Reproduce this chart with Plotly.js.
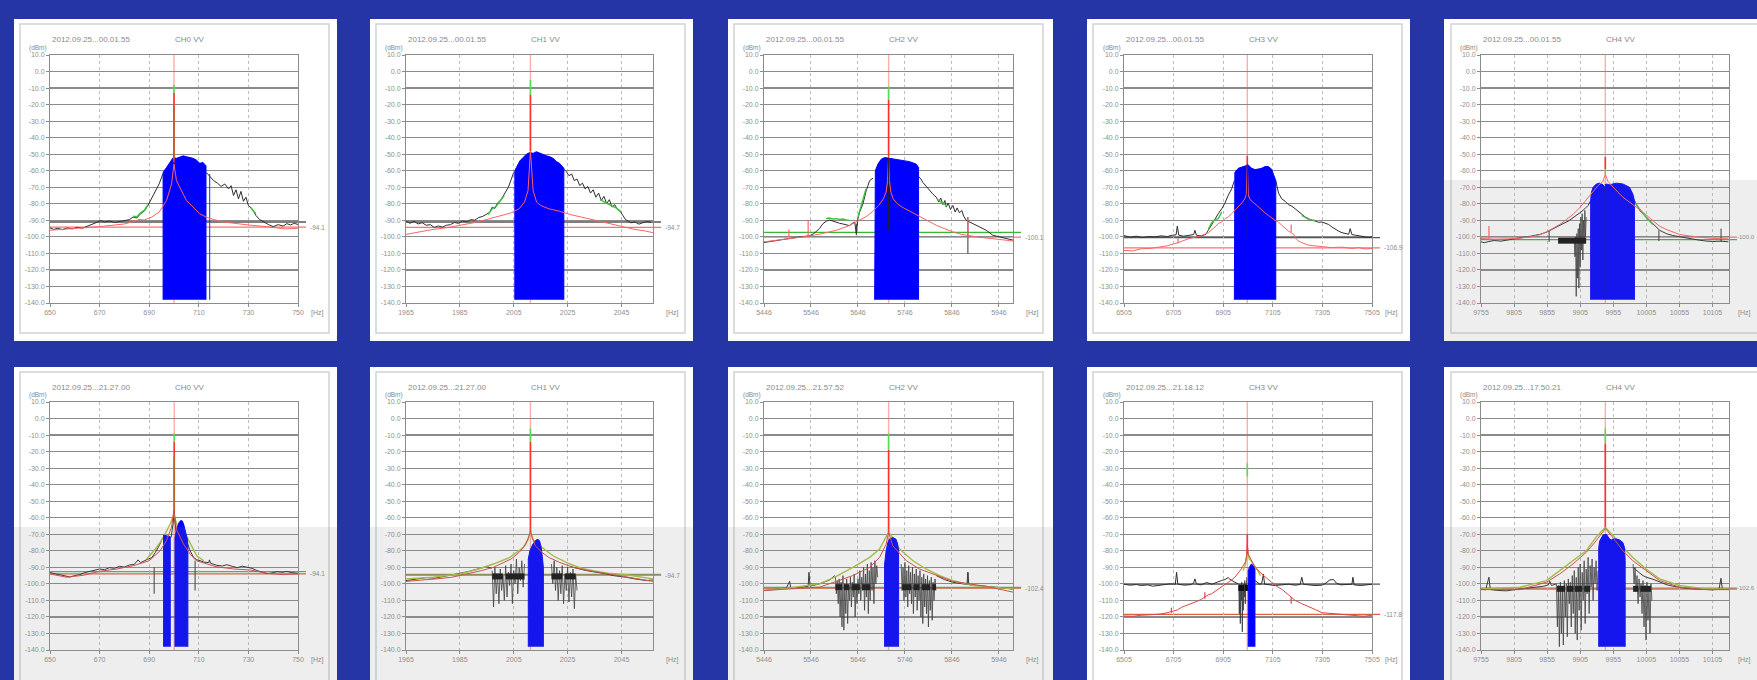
<!DOCTYPE html>
<html><head><meta charset="utf-8">
<script src="https://cdn.plot.ly/plotly-3.0.1.min.js"></script>
<style>html,body{margin:0;padding:0;background:#2535a5;overflow:hidden}#chart{width:1757px;height:680px}</style>
</head><body><div id="chart"></div>
<script>
// ---------------- DATA ----------------
const Y_TICKS = [10,0,-10,-20,-30,-40,-50,-60,-70,-80,-90,-100,-110,-120,-130,-140];
const BAND_FLOOR = -138;
const col1Range = [650, 750];   const col1Ticks = [650,670,690,710,730,750];
const col2Range = [1965, 2056.7]; const col2Ticks = [1965,1985,2005,2025,2045];
const col3Range = [5446, 5976]; const col3Ticks = [5446,5546,5646,5746,5846,5946];
const col4Range = [6505, 7505]; const col4Ticks = [6505,6705,6905,7105,7305,7505];
const col5Range = [9755, 10130]; const col5Ticks = [9755,9805,9855,9905,9955,10005,10055,10105];
const channels = ['CH0 VV','CH1 VV','CH2 VV','CH3 VV','CH4 VV'];
const stamps = ['2012.09.25...00.01.55','2012.09.25...00.01.55','2012.09.25...00.01.55','2012.09.25...00.01.55','2012.09.25...00.01.55',
                '2012.09.25...21.27.00','2012.09.25...21.27.00','2012.09.25...21.57.52','2012.09.25...21.18.12','2012.09.25...17.50.21'];
const threshLevels = [-94.1,-94.2,-100.1,-106.6,-100.1,-94,-94.7,-102.6,-118.4,-102.6];
const threshLabels = ['-94.1','-94.7','-100.1','-106.9','-100.0','-94.1','-94.7','-102.4','-117.8','-102.6'];
const refGrayLevels = [-91,-91,null,-100.5,null,null,null,null,-100.2,null];
const refGreenLevels = [null,null,-97.3,null,-101.7,-92.6,-94.2,-102.2,null,-103.2];
const carriers = [700,2011.2,5711.2,7002.3,9943,700.1,2011.2,5711.2,7002.3,9943];
const spikeGreen = [[-8,-13],[-5,-14],[-9,-17],null,[-59,-62],[-9,-14],[-6,-14],[-9,-19],[-27,-35],[-6,-15]];
const spikeRed = [[-13,-55],[-14,-48],[-17,-51.5],[-51,-56],[-51.6,-59],[-14,-56.5],[-14,-68.7],[-19,-68.7],[-70,-82],[-15,-65.7]];
const spikeBrown = [[-21,-53],null,null,null,null,[-23,-56],null,null,null,null];
const carrierBlack = [null,null,[-52,-96],[-56,-100],[-68,-137],null,null,null,null,null];

// Panel 1 (CH0, 00.01.55)
const p1Black = [[650,-94.5],[651.5,-95.5],[653,-94.8],[655,-95.6],[657,-94.6],[659,-95.2],[661,-94.2],[663,-94.8],[665,-93.6],[667,-92.5],[669,-91.2],[670.5,-90.2],[672,-91],[674,-90.4],[676,-91.3],[678,-90.6],[680,-90.2],[682,-89.6],[683.5,-88],[685,-88.6],[686.5,-86],[688,-84.5],[689.5,-81],[691,-76.5],[692.5,-73],[694,-68],[695.5,-62],[704,null],[713,-61],[714.5,-63.5],[716,-66],[717.5,-67.5],[719,-69.5],[720.5,-68],[722,-71],[723,-69],[724,-75],[725,-71.5],[726,-77],[727,-72.5],[728,-78.5],[729,-76],[730,-81],[731.5,-83],[733,-87],[734.5,-89.5],[736,-91],[738,-92.5],[740,-93.8],[742,-92.6],[744,-93.5],[745.5,-92],[747,-92.8],[748.5,-91.8],[750,-92.5]];
const p1Green = [[683.5,-87.5],[685,-87.8],[686.5,-85.5],[688,-84],[689.5,-80.5],[710,null],[731,-82.5],[732,-84],[733,-86]];
const p1Red = [[650,-96],[655,-95.5],[660,-95],[665,-94.5],[670,-93.8],[675,-93],[680,-92.2],[684,-90.5],[686,-89.5],[688,-89.8],[691,-88],[694,-85],[697,-78],[699,-68],[700,-56],[701,-66],[702.3,-70],[705,-78],[707.7,-82],[710.3,-86],[713,-88],[716,-89.5],[720,-91],[725,-92],[730,-92.8],[735,-93.5],[740,-94.5],[745,-95.2],[750,-94.8]];
const p1Band = [[695.6,-61],[697,-58],[698.3,-55],[699.7,-52],[701,-52.5],[702.3,-52],[703.7,-51],[705,-51.5],[706.4,-52],[707.7,-52.5],[709,-53.5],[710.4,-55.5],[711.7,-55],[712.9,-57]];
const p1BlueTicks = [[714.4,-138,-62]];

// Panel 2 (CH1, 00.01.55)
const p2Black = [[1965,-90.5],[1966.5,-91.8],[1968,-90.6],[1969.5,-92.2],[1971,-91.4],[1972.5,-93],[1974,-92.6],[1975.5,-94.3],[1977,-93.4],[1978.5,-94.1],[1980,-93],[1981.5,-92.6],[1983,-91.3],[1984.5,-91.8],[1986,-90.4],[1987.5,-90.9],[1989,-89.6],[1990.5,-89.9],[1992,-88.3],[1993.5,-87.6],[1995,-86.2],[1996,-85.3],[1997,-82],[1998,-82.8],[1999,-79.4],[2000,-78.1],[2001,-75.5],[2002,-72.4],[2003,-70],[2004,-65.5],[2005,-61],[2014,null],[2023.6,-59],[2024.5,-60.5],[2025.5,-63],[2026.5,-62],[2027.5,-66],[2028.5,-65],[2029.5,-69],[2030.5,-67.5],[2031.5,-71],[2032.5,-69.5],[2033.5,-73.5],[2034.5,-71.5],[2035.5,-76],[2036.5,-73.5],[2037.5,-78],[2038.5,-75.5],[2039.5,-80],[2040.5,-77.5],[2041.5,-82],[2042.5,-80.5],[2043.5,-83.5],[2044.5,-84.5],[2045.5,-87],[2046.5,-89.5],[2047.5,-90.5],[2048.5,-91.5],[2050,-91],[2051.5,-92.3],[2053,-91.4],[2054.5,-90.8],[2056,-91.2]];
const p2Green = [[1995.5,-86.5],[1997,-83],[1998.5,-81.5],[2000,-78.5],[2001.5,-75],[2020,null],[2037,-77.5],[2039,-79.5],[2041,-81],[2043,-82.5],[2045,-85]];
const p2Red = [[1965,-98.5],[1970,-97],[1975,-95.5],[1980,-94.5],[1985,-93],[1990,-91.5],[1995,-89.5],[2000,-87.5],[2004,-85.5],[2007,-83],[2009,-79],[2010.3,-72],[2011.2,-48],[2012.2,-72],[2013.5,-79],[2015,-81],[2018,-83],[2022,-84.5],[2026,-86.5],[2030,-88],[2034,-89.5],[2038,-91],[2042,-92.5],[2046,-94],[2050,-95.5],[2054,-96.5],[2056.7,-97.5]];
const p2Band = [[2005.4,-60],[2006,-58],[2007.3,-54],[2008.5,-52],[2009.7,-50],[2011,-49],[2012.2,-49.5],[2013.4,-48.5],[2014.7,-49.5],[2015.9,-50],[2017.2,-51],[2018.4,-51.5],[2019.6,-52.5],[2020.9,-54.5],[2022,-55.5],[2023.6,-58.5]];

// Panel 3 (CH2, 00.01.55)
const p3Black = [[5446,-103.4],[5458,-102.8],[5470,-102.2],[5482,-101.6],[5494,-101],[5506,-100.6],[5518,-100.2],[5530,-99.8],[5543,-99.3],[5552,-98],[5557,-96.5],[5564,-95],[5571.5,-92],[5578.6,-90.5],[5585.7,-89.8],[5592.8,-90.6],[5600,-91],[5607,-91.8],[5614,-92.2],[5621,-92.8],[5628,-93.2],[5633,-92],[5639,-91],[5642.5,-98],[5646,-89],[5649.5,-85],[5656.6,-80],[5663.7,-72],[5670.8,-66],[5678,-64.5],[5720,null],[5775,-63.5],[5780,-65],[5784,-67],[5791,-69.5],[5798.5,-72],[5805,-74],[5812.7,-76],[5818,-79],[5822,-76.5],[5827,-80.5],[5831,-78],[5834,-82],[5838,-79.5],[5843,-83.5],[5848,-81],[5853,-85],[5857,-82.5],[5862,-85.5],[5867,-84],[5871,-87.5],[5876.5,-90],[5883,-91],[5890.7,-92],[5898,-93],[5905,-94],[5912,-95],[5919,-96],[5926,-97.5],[5933,-99],[5940,-99.5],[5947,-100],[5954,-100.6],[5961.6,-101],[5968,-101.5],[5976,-102]];
const p3Green = [[5578,-89],[5585,-88.6],[5592,-89.2],[5600,-89],[5607,-89.5],[5614,-89.2],[5621,-89.8],[5628,-90],[5637,null],[5646,-88],[5650,-84],[5656,-78],[5663,-71],[5700,null],[5815,-77.5],[5822,-78.5],[5829,-80],[5836,-81.5]];
const p3Red = [[5446,-103],[5470,-102.2],[5494,-101.5],[5518,-100.5],[5543,-99.5],[5570,-98],[5600,-96],[5625,-93.5],[5650,-90],[5665,-87.5],[5678,-84.5],[5690,-81],[5700,-77],[5706,-73],[5709,-66],[5711.2,-51.5],[5713,-66],[5716,-73],[5721,-77],[5730,-80],[5740,-82],[5750,-83.5],[5760,-85.5],[5777,-88],[5795,-90.5],[5812.7,-93],[5830,-95],[5848,-97],[5866,-98.5],[5885,-99.5],[5905,-100.3],[5930,-101],[5955,-102],[5976,-102.5]];
const p3Band = [[5681.5,-64],[5683,-60],[5688.5,-56],[5695.6,-53],[5702.7,-52],[5713.4,-52.5],[5727.5,-53.5],[5741.7,-54],[5755.9,-54.5],[5770,-56],[5775,-58]];
const p3BlackTicks = [[5642.5,-99,-92],[5880,-110,-88]];
const p3RedTicks = [[5499,-100,-95.5],[5540,-100,-90],[5880,-101,-89]];

// Panel 4 (CH3, 00.01.55)
const p4Black = [[6505,-99.2],[6530,-100.2],[6555,-99.6],[6580,-100.4],[6605,-99.8],[6630,-100],[6655,-99.4],[6680,-99.8],[6700,-99],[6715,-98.8],[6720,-93.5],[6726,-99],[6745,-99.6],[6770,-99.2],[6786,-98.6],[6791,-96],[6797,-99],[6818,-99.4],[6835,-98.5],[6845,-96],[6858,-92.5],[6872,-89],[6885,-86],[6899,-83],[6912,-79.5],[6925,-75],[6939,-71],[6950,-66],[7030,null],[7117,-66],[7128,-73.5],[7141,-77],[7155,-78.5],[7168,-80.5],[7182,-81.5],[7195,-83],[7208,-84.5],[7222,-86.5],[7236,-88],[7249,-89],[7263,-90],[7276,-90.4],[7290,-91.2],[7303,-91],[7316,-91.8],[7330,-92.5],[7343,-94],[7357,-95.5],[7370,-96.5],[7384,-97.5],[7397,-98],[7411,-98.4],[7417,-95],[7424,-98.6],[7438,-99],[7451,-99.2],[7465,-99.6],[7478,-100],[7492,-100.4],[7505,-99.8]];
const p4Green = [[6845,-95.5],[6858,-91.5],[6872,-89.5],[6885,-89],[6899,-85],[7000,null],[7222,-87],[7236,-88.5],[7249,-89.4],[7263,-89.8],[7276,-90]];
const p4Red = [[6505,-108.2],[6540,-108.5],[6575,-107.2],[6610,-107],[6642,-106.3],[6680,-105.4],[6710,-104],[6723,-103.5],[6764,-101.2],[6791,-100.4],[6818,-99.2],[6845,-97.5],[6858,-96],[6872,-94],[6885,-92],[6899,-91],[6912,-89],[6925,-88],[6939,-86],[6952,-84],[6966,-82],[6980,-79.5],[6992,-77],[6998,-74.5],[7002.3,-55],[7006,-74.5],[7012,-77],[7020,-78.5],[7033,-80],[7047,-82],[7060,-84],[7074,-85.5],[7087,-87],[7100,-88.5],[7114,-90],[7127,-91],[7141,-93],[7155,-94.5],[7168,-96.5],[7179,-97.5],[7190,-98.5],[7195,-100.5],[7208,-102.5],[7222,-103.5],[7236,-104.2],[7249,-105],[7276,-105.5],[7303,-106],[7343,-106.5],[7384,-106.2],[7424,-107],[7451,-106.5],[7478,-107.3],[7505,-107]];
const p4Band = [[6950,-66],[6952,-61],[6966,-58.5],[6979,-57.7],[6993,-57.2],[7006,-56.5],[7020,-58.5],[7033,-59.3],[7046,-59],[7060,-58.5],[7073,-57.5],[7087,-57.5],[7100,-59],[7110,-62.5],[7117,-66]];
const p4RedTicks = [[6723,-104,-100.5],[7179,-97,-92.5]];

// Panel 5 (CH4, 00.01.55)
const p5Black = [[9755,-103],[9760,-103.5],[9767,-102.8],[9775,-102.2],[9785,-102.6],[9795,-101.8],[9805,-101.2],[9814,-100.6],[9825,-100],[9835,-99.2],[9845,-98.4],[9855,-97],[9864,-95],[9870,-93.5],[9879,-92],[9887,-90.5],[9894,-88.5],[9900,-87],[9906,-85],[9912,-83],[9917,-81],[9921,-78],[9950,null],[9987,-78],[9991,-81],[9995,-84],[10000,-86],[10005,-88],[10010,-90],[10015,-92],[10020,-94],[10025,-96],[10030,-97],[10035,-98],[10045,-99.2],[10055,-100],[10065,-100.8],[10075,-101.6],[10085,-102],[10095,-102.5],[10105,-102.8],[10118,-102.6],[10129,-103]];
const p5Green = [[9987,-79],[9995,-83],[10005,-88.5],[10015,-92.5]];
const p5Red = [[9755,-101],[9775,-101.4],[9795,-101.2],[9814,-100.8],[9829,-100],[9845,-98.6],[9854,-97],[9864,-95],[9874,-92.5],[9884,-89.5],[9894,-86.5],[9904,-82.5],[9909,-80],[9916,-77],[9924,-73],[9932,-69],[9939.5,-66.5],[9943,-62],[9947,-66.5],[9954.5,-70],[9962,-73],[9969.6,-76],[9977,-78.5],[9984.6,-80.5],[9995,-83.5],[10005,-87],[10015,-90.5],[10025,-93.5],[10035,-95.5],[10045,-97],[10055,-98.5],[10065,-99.2],[10080,-100],[10095,-100.6],[10110,-101],[10129,-101.2]];
const p5Band = [[9920.8,-78],[9922,-73],[9924.5,-70],[9929.5,-68],[9934.5,-67.5],[9939.5,-68.5],[9942,-70],[9944.5,-68],[9949.5,-68.5],[9959.5,-67.5],[9969.5,-68],[9979.5,-70],[9984.5,-74],[9987,-78]];
const p5BlackTicks = [[9858,-103,-96.5],[10024,-102.5,-96],[10118,-103,-95]];
const p5RedTicks = [[9767,-101,-93.5]];
const p5Bars = [[9871.6,-102.3],[9914,-102.3]];
const p5Zig = [[9896,-102],[9897,-112],[9898,-100],[9899,-136],[9900,-98],[9901,-125],[9902,-95],[9903,-131],[9904,-92],[9905,-118],[9906,-88],[9907,-108],[9908,-86],[9909,-114],[9910,-90],[9911,-104],[9912,-84],[9913,-100],[9914,-88]];

// Panel 6 (CH0, 21.27.00)
const p6Black = [[650,-93.2],[652,-93.8],[654,-94.4],[656,-95.2],[658,-95.8],[660,-95],[662,-94.4],[664,-93.2],[666,-92.4],[668,-91.8],[670,-91],[672,-91.4],[674,-90.2],[676,-90.6],[678,-89.4],[680,-89.8],[682,-88.6],[684,-88.2],[685.5,-85.5],[686.5,-87.2],[688,-86],[689.5,-85],[691,-84.2],[692.5,-81],[694,-77],[695.5,-72],[697,null],[698.8,-72],[699.6,-64],[700,-56],[700.4,-64],[701,-72],[703,null],[705.6,-76],[706.5,-80],[707.9,-84],[709.2,-85.5],[710.6,-86],[712,-86.8],[714,-87.2],[714.3,-85.5],[714.7,-87.5],[717.3,-88.8],[719.5,-89.2],[721.3,-88.4],[723.5,-89.4],[725.5,-90.2],[727.5,-89.3],[729.4,-90],[731.5,-90.6],[733.5,-92],[735.5,-93],[737.5,-93.8],[739.5,-93.4],[741.5,-92.6],[743.5,-93],[745.5,-92.5],[747.5,-93.2],[750,-93.6]];
const p6Green = [[689,-85],[693,-78],[695.8,-71.7],[698.5,-63.6],[700,-57.5],[701,-63.6],[703.8,-67.7],[706.5,-75.8],[709.2,-83],[712,-86]];
const p6Red = [[650,-94],[656.7,-96],[663.5,-94.8],[670,-92.4],[677,-91],[683.6,-89],[690,-86],[694.4,-80],[697,-73.8],[699,-65.7],[700,-55.5],[701,-67],[703.8,-75.8],[706.5,-82],[709,-86],[713,-88],[717,-89.6],[724,-91],[730.8,-91.6],[737.5,-93.6],[744,-94.4],[750,-94]];
const p6Band = [[695.8,-70.5],[697.2,-71],[698.5,-71.5],[null,null],[700.4,-72],[701.3,-66],[702,-63],[702.7,-61.7],[703.4,-62],[704,-64.5],[704.7,-68.5],[705.4,-73],[705.6,-77]];
const p6BlackTicks = [[692,-106,-90],[708.5,-104,-86]];

// Panel 7 (CH1, 21.27.00)
const p7Black = [[1965,-98],[1967.7,-97.4],[1970,-97],[1972.7,-96.2],[1975.5,-96.6],[1978.8,-95.4],[1982,-94.6],[1985,-93.6],[1988,-92.6],[1991.2,-91.4],[1993,-90.6],[1994.9,-89.6],[1996.8,-90.5],[2010,null],[2026,-89.5],[2027,-90],[2029.5,-91],[2032,-92],[2034.5,-92.6],[2037,-93.2],[2039.5,-94],[2041.9,-95],[2044.4,-95.4],[2046.8,-96],[2049.3,-96.8],[2051.8,-97.2],[2054.2,-98],[2056.7,-97.6]];
const p7Green = [[1965,-97],[1975,-96],[1985,-94],[1992,-91],[1997.4,-88],[2003.6,-84],[2008.5,-78],[2010.4,-73],[2011.2,-67.7],[2012,-73],[2014.7,-77],[2019.6,-83],[2025.8,-88],[2030,-90.5],[2034.5,-92],[2040,-93.5],[2046.8,-94.5],[2052,-96],[2056.7,-97]];
const p7Red = [[1965,-98.5],[1970,-98],[1976,-97],[1982,-96],[1988,-94],[1993,-92],[1997.4,-90],[2001,-87],[2004,-85],[2007,-81],[2009.5,-76],[2011.2,-68.5],[2013,-77],[2015.5,-81],[2018,-84],[2022,-87],[2027,-90],[2033,-92],[2040,-94],[2047,-96],[2052,-97.5],[2056.7,-98.5]];
const p7Band = [[2010.4,-85],[2011,-80],[2012.1,-76],[2013.3,-73.5],[2014,-73],[2014.6,-74],[2015.2,-78],[2015.7,-85],[2016,-90]];
const p7Bars = [[1997,-95.5],[2001,-95.5],[2001.5,null],[2002,-95.5],[2009,-95.5],[2014,null],[2019,-95.5],[2023,-95.5],[2023.5,null],[2024,-95.5],[2028,-95.5]];
const p7Zig = [[1997,-92],[1997.5,-114],[1998,-90],[1998.5,-106],[1999,-94],[1999.5,-112],[2000,-91],[2000.5,-104],[2001,-95],[2001.5,-110],[2002,-89],[2002.5,-108],[2003,-93],[2003.5,-101],[2004,-88],[2004.5,-112],[2005,-92],[2005.5,-100],[2006,-85],[2006.5,-106],[2007,-90],[2007.5,-98],[2008,-86],[2008.5,-102],[2009,-88],[2014,null],[2019,-88],[2019.5,-100],[2020,-86],[2020.5,-104],[2021,-90],[2021.5,-110],[2022,-92],[2022.5,-106],[2023,-89],[2023.5,-112],[2024,-94],[2024.5,-104],[2025,-90],[2025.5,-111],[2026,-93],[2026.5,-108],[2027,-91],[2027.5,-115],[2028,-95],[2028.5,-104]];

// Panel 8 (CH2, 21.57.52)
const p8Black = [[5446,-104],[5465,-103.4],[5480,-102.8],[5493.5,-102.5],[5500.6,-98.5],[5503,-102.6],[5522,-102],[5540,-101.5],[5541.7,-93],[5544,-101.4],[5564.4,-100],[5575,-99],[5585.7,-97.6],[5596.4,-95],[5700,null],[5812.7,-95],[5830,-97.4],[5848,-99],[5865,-100],[5878,-100.4],[5880,-93],[5882,-100.5],[5900,-101],[5919,-101.4],[5937,-102],[5954.5,-102.4],[5975.8,-103.2]];
const p8Green = [[5446,-104],[5500,-102.5],[5564,-100],[5600,-95.5],[5635,-90],[5671,-84],[5692,-79],[5706,-71.7],[5711.2,-68.7],[5720,-72],[5734.6,-79],[5763,-86],[5791,-91],[5820,-95],[5848,-98],[5890.7,-101],[5930,-102],[5976,-103]];
const p8Red = [[5446,-104],[5500,-103],[5564,-102],[5600,-98.5],[5635,-95],[5671,-90],[5692,-84],[5706,-76],[5711.2,-68.7],[5720,-77],[5749,-86],[5777,-91],[5812.7,-95],[5848,-98.5],[5919,-101.5],[5976,-105]];
const p8Band = [[5702.7,-88],[5706,-80],[5709.6,-75],[5713,-72.8],[5720,-72],[5727,-73],[5730.5,-76],[5732.5,-80]];
const p8Bars = [[5598,-102],[5612,-102],[5614,null],[5616,-102],[5628,-102],[5630,null],[5632,-102],[5650,-102],[5652,null],[5655,-102],[5672,-102],[5700,null],[5740,-102],[5760,-102],[5762,null],[5764,-102],[5777,-102],[5779,null],[5782,-102],[5800,-102],[5802,null],[5804,-102],[5812,-102]];
const p8Zig = [[5598,-96],[5600,-106],[5602,-98],[5604,-112],[5606,-97],[5608,-120],[5610,-99],[5612,-126],[5614,-95],[5616,-128],[5618,-100],[5620,-118],[5622,-97],[5624,-124],[5626,-101],[5628,-110],[5630,-96],[5632,-114],[5634,-99],[5636,-108],[5638,-94],[5640,-120],[5642,-100],[5644,-112],[5646,-97],[5648,-106],[5650,-92],[5652,-110],[5654,-96],[5656,-104],[5658,-90],[5660,-116],[5662,-94],[5664,-108],[5666,-88],[5668,-118],[5670,-92],[5672,-110],[5674,-87],[5676,-104],[5678,-90],[5680,-112],[5682,-86],[5684,-100],[5686,-89],[5688,-96],[5710,null],[5738,-88],[5740,-104],[5742,-90],[5744,-110],[5746,-87],[5748,-108],[5750,-92],[5752,-114],[5754,-89],[5756,-106],[5758,-93],[5760,-112],[5762,-90],[5764,-118],[5766,-94],[5768,-108],[5770,-91],[5772,-116],[5774,-95],[5776,-110],[5778,-92],[5780,-120],[5782,-96],[5784,-124],[5786,-94],[5788,-114],[5790,-97],[5792,-118],[5794,-95],[5796,-126],[5798,-98],[5800,-116],[5802,-96],[5804,-122],[5806,-99],[5808,-110],[5810,-97],[5812,-104]];
const p8BlackTicks = [[5880,-100.4,-93]];

// Panel 9 (CH3, 21.18.12)
const p9Black = [[6505,-100.2],[6530,-100.8],[6555,-100.4],[6575,-101],[6600,-100.6],[6620,-101.4],[6642,-101],[6665,-100.4],[6690,-100],[6712,-100.2],[6717,-93],[6722,-100.2],[6750,-100.8],[6775,-100.4],[6786,-99.4],[6791,-97],[6797,-100],[6815,-100.6],[6838,-99.2],[6860,-100.2],[6885,-98.6],[6898,-98],[6912,-97.4],[6925,-96.2],[6932,-97.2],[6939,-98],[6952,-99],[6966,-100],[7000,null],[7033,-98],[7045,-99.5],[7053,-100.2],[7060,-100],[7067,-94.2],[7072,-100.2],[7090,-100.6],[7114,-101],[7140,-100.6],[7168,-100.2],[7195,-100.8],[7215,-100.4],[7222,-96],[7228,-100.2],[7250,-100.6],[7275,-101],[7303,-100.8],[7320,-99.4],[7335,-97.6],[7350,-97.4],[7362,-99.6],[7380,-100.6],[7400,-100.4],[7424,-100.2],[7428,-96],[7433,-100.6],[7460,-101],[7485,-100.6],[7505,-100.2]];
const p9Green = [[6985,-92],[6995,-88],[7002.3,-80],[7010,-85],[7020,-86.5],[7033,-89],[7045,-92],[7055,-95]];
const p9Red = [[6505,-119.4],[6540,-119.6],[6575,-119],[6610,-118.8],[6642,-118.4],[6670,-117.8],[6696,-117],[6720,-115.8],[6737,-114.2],[6760,-113],[6777,-112],[6800,-110.5],[6818,-109.3],[6831,-108],[6845,-106.6],[6858,-106],[6872,-104.6],[6885,-103.4],[6899,-102],[6912,-100.6],[6925,-99.2],[6939,-97.6],[6952,-96],[6966,-93.5],[6978,-91],[6986,-89],[6995,-86.5],[7000,-83],[7002.3,-76],[7006,-82],[7013,-84],[7022,-87.5],[7033,-90],[7046,-92],[7060,-94],[7080,-96.5],[7100,-99],[7120,-101.5],[7141,-103.2],[7160,-105.5],[7168,-106.8],[7180,-108],[7195,-110],[7222,-112],[7249,-114],[7276,-115.5],[7303,-117.4],[7343,-118],[7384,-118.4],[7437,-119.4],[7470,-119.6],[7505,-119]];
const p9Band = [[7006,-92],[7012,-89.5],[7019,-88],[7026,-89],[7033,-91]];
const p9Bars = [[6966,-102.5],[6990,-102.5],[6991.5,null],[6993,-102.5],[7006,-102.5]];
const p9Zig = [[6968,-101],[6970,-118],[6972,-100],[6974,-124],[6976,-102],[6978,-110],[6980,-99],[6982,-129],[6984,-101],[6986,-116],[6988,-100],[6990,-108],[6992,-98],[6994,-112],[6996,-100],[6998,-104],[7000,-96]];
const p9RedTicks = [[6696,-117.5,-114.5],[6831,-109,-105],[7179,-112,-108]];

// Panel 10 (CH4, 17.50.21)
const p10Black = [[9755,-103.2],[9762,-103.6],[9767,-96],[9769,-103.4],[9780,-104],[9794,-104.2],[9804,-103.6],[9814,-103.2],[9826,-102.8],[9839,-102.2],[9850,-101.4],[9857,-100.6],[9859,-98.4],[9861.5,-101],[9866,-100.4],[9869,-100],[9950,null],[9985,-90],[9990,-92],[9995,-93.5],[10000,-95],[10005,-96],[10015,-97.2],[10025,-99],[10035,-100.4],[10045,-101.4],[10055,-102.2],[10065,-102.6],[10075,-103],[10085,-103.2],[10095,-103.4],[10105,-103.6],[10115,-103.2],[10117.8,-96.6],[10120,-103.4],[10130,-103.4]];
const p10Green = [[9755,-103],[9814,-102],[9854,-98],[9874,-92],[9894,-86],[9914,-80],[9929,-71.7],[9943,-65.7],[9954.5,-70.7],[9969.6,-77.8],[9984.6,-84],[10004.7,-91],[10025,-97],[10055,-101],[10095,-103],[10130,-103]];
const p10Red = [[9755,-103.5],[9814,-103.5],[9854,-99],[9874,-94],[9894,-88],[9914,-81],[9929,-74],[9943,-66.5],[9954.5,-72],[9969.6,-80],[9984.6,-86],[10004.7,-92],[10025,-98],[10055,-102],[10095,-103.5],[10130,-103.5]];
const p10Band = [[9933,-78],[9934.5,-74],[9937,-71.7],[9939.5,-70.5],[9944.5,-70],[9947,-71.5],[9949.5,-72.8],[9952,-73.4],[9954.5,-72.8],[9959.5,-72.8],[9964.5,-73.4],[9969.5,-75],[9972,-78],[9973,-86]];
const p10Bars = [[9870,-103],[9882,-103],[9883.5,null],[9885,-103],[9895,-103],[9896,null],[9897,-103],[9908,-103],[9909.5,null],[9911,-103],[9920,-103],[9950,null],[9985,-103],[9993,-103],[9994.5,null],[9996,-103],[10012,-103]];
const p10Zig = [[9869,-100],[9870.5,-126],[9872,-101],[9873.5,-138],[9875,-99],[9876.5,-130],[9878,-102],[9879.5,-137],[9881,-98],[9882.5,-120],[9884,-100],[9885.5,-132],[9887,-97],[9888.5,-112],[9890,-99],[9891.5,-126],[9893,-95],[9894.5,-118],[9896,-92],[9897.5,-130],[9899,-96],[9900.5,-134],[9902,-90],[9903.5,-116],[9905,-88],[9906.5,-128],[9908,-93],[9909.5,-110],[9911,-86],[9912.5,-124],[9914,-91],[9915.5,-106],[9917,-84],[9918.5,-118],[9920,-89],[9921.5,-102],[9923,-85],[9924.5,-110],[9926,-90],[9927.5,-100],[9929,-86],[9930.5,-104],[9932,-92],[9950,null],[9985,-88],[9986.5,-100],[9988,-90],[9989.5,-104],[9991,-95],[9992.5,-112],[9994,-97],[9995.5,-108],[9997,-100],[9998.5,-118],[10000,-98],[10001.5,-126],[10003,-101],[10004.5,-134],[10006,-99],[10007.5,-122],[10009,-102],[10010.5,-130],[10012,-100],[10013.5,-110]];

// ---------------- BUILD ----------------
const PANELS = [
  {black:p1Black, green:p1Green, red:p1Red, band:p1Band, blackTicks:[], redTicks:[], blueTicks:p1BlueTicks, bars:[], zig:[]},
  {black:p2Black, green:p2Green, red:p2Red, band:p2Band, blackTicks:[], redTicks:[], blueTicks:[], bars:[], zig:[]},
  {black:p3Black, green:p3Green, red:p3Red, band:p3Band, blackTicks:p3BlackTicks, redTicks:p3RedTicks, blueTicks:[], bars:[], zig:[]},
  {black:p4Black, green:p4Green, red:p4Red, band:p4Band, blackTicks:[], redTicks:p4RedTicks, blueTicks:[], bars:[], zig:[]},
  {black:p5Black, green:p5Green, red:p5Red, band:p5Band, blackTicks:p5BlackTicks, redTicks:p5RedTicks, blueTicks:[], bars:p5Bars, zig:p5Zig},
  {black:p6Black, green:p6Green, red:p6Red, band:p6Band, blackTicks:p6BlackTicks, redTicks:[], blueTicks:[], bars:[], zig:[]},
  {black:p7Black, green:p7Green, red:p7Red, band:p7Band, blackTicks:[], redTicks:[], blueTicks:[], bars:p7Bars, zig:p7Zig},
  {black:p8Black, green:p8Green, red:p8Red, band:p8Band, blackTicks:p8BlackTicks, redTicks:[], blueTicks:[], bars:p8Bars, zig:p8Zig},
  {black:p9Black, green:p9Green, red:p9Red, band:p9Band, blackTicks:[], redTicks:p9RedTicks, blueTicks:[], bars:p9Bars, zig:p9Zig},
  {black:p10Black, green:p10Green, red:p10Red, band:p10Band, blackTicks:[], redTicks:[], blueTicks:[], bars:p10Bars, zig:p10Zig}
];
const COL_RANGES = [col1Range,col2Range,col3Range,col4Range,col5Range];
const COL_TICKS = [col1Ticks,col2Ticks,col3Ticks,col4Ticks,col5Ticks];

const W = 1757, H = 680;
const COLS = [
  {boxL:14, boxR:337, frameL:20, frameR:329, plotL:50, plotR:298, lblGap:10, hzGap:11, lblSize:6.5},
  {boxL:370, boxR:693, frameL:376, frameR:685, plotL:406, plotR:653, lblGap:10, hzGap:11, lblSize:6.5},
  {boxL:728, boxR:1053, frameL:734, frameR:1043, plotL:764, plotR:1013, lblGap:10, hzGap:11, lblSize:6.5},
  {boxL:1087, boxR:1410, frameL:1093, frameR:1402, plotL:1124, plotR:1372, lblGap:10, hzGap:11, lblSize:6.5},
  {boxL:1444, boxR:1800, frameL:1451, frameR:1800, plotL:1481, plotR:1729, lblGap:6, hzGap:7, lblSize:6}
];
const ROWS = [
  {boxT:19, boxB:341, frameT:24, frameB:333, plotT:55, plotB:303, titleY:39, unitY:48, grayT:180},
  {boxT:367, boxB:720, frameT:372, frameB:720, plotT:402, plotB:650, titleY:387, unitY:395, grayT:527}
];
const OVERLAY = [false,false,false,false,true,true,true,true,false,true];
const FONT = 'Liberation Sans, Arial, sans-serif';
const px = v => v / W, py = v => 1 - v / H;
const colOf = (pairs, i) => pairs.map(p => p[i]);

function bandPolygon(pairs, floor) {
  const x = [], y = [];
  let seg = [];
  const flush = () => {
    if (!seg.length) return;
    x.push(seg[0][0]); y.push(floor);
    seg.forEach(p => { x.push(p[0]); y.push(p[1]); });
    x.push(seg[seg.length - 1][0]); y.push(floor);
    x.push(null); y.push(null);
    seg = [];
  };
  pairs.forEach(p => { if (p[0] === null) flush(); else seg.push(p); });
  flush();
  return {x, y};
}
function vTicks(list) {
  const x = [], y = [];
  list.forEach(t => { x.push(t[0], t[0], null); y.push(t[1], t[2], null); });
  return {x, y};
}

const data = [], shapes = [], annotations = [];
const layout = {
  width: W, height: H, margin: {l:0, r:0, t:0, b:0},
  paper_bgcolor: '#2535a5', plot_bgcolor: '#ffffff',
  showlegend: false, font: {family: FONT}
};

PANELS.forEach((p, k) => {
  const C = COLS[k % 5], R = ROWS[k < 5 ? 0 : 1];
  shapes.push({type:'rect', xref:'paper', yref:'paper', x0:px(C.boxL), x1:px(C.boxR), y0:py(R.boxB), y1:py(R.boxT),
    fillcolor:'#ffffff', line:{width:0}, layer:'below'});
  shapes.push({type:'rect', xref:'paper', yref:'paper', x0:px(C.frameL), x1:px(C.frameR), y0:py(R.frameB), y1:py(R.frameT),
    fillcolor:'rgba(0,0,0,0)', line:{color:'#d2d2d2', width:1.5}, layer:'below'});
});

PANELS.forEach((p, k) => {
  const top = k < 5;
  const C = COLS[k % 5], R = ROWS[top ? 0 : 1];
  const n = k + 1;
  const xa = n === 1 ? 'x' : 'x' + n, ya = n === 1 ? 'y' : 'y' + n;
  const xKey = n === 1 ? 'xaxis' : 'xaxis' + n, yKey = n === 1 ? 'yaxis' : 'yaxis' + n;
  const ticks = COL_TICKS[k % 5];
  layout[xKey] = {
    domain:[px(C.plotL), px(C.plotR)], range: COL_RANGES[k % 5], anchor: ya,
    tickmode:'array', tickvals: ticks, ticktext: ticks.map(String),
    showgrid:true, gridcolor:'#bdbdbd', griddash:'dot', gridwidth:1,
    showline:true, linecolor:'#8c8c8c', linewidth:1, mirror:true,
    ticks:'outside', ticklen:3, tickcolor:'#8c8c8c',
    tickfont:{size:7, color:'#8f8f8f', family:FONT}, zeroline:false, fixedrange:true
  };
  layout[yKey] = {
    domain:[py(R.plotB), py(R.plotT)], range:[-140, 10], anchor: xa,
    tickmode:'array', tickvals: Y_TICKS, ticktext: Y_TICKS.map(v => v.toFixed(1)),
    showgrid:true, gridcolor:'#8a8a8a', gridwidth:1.2,
    showline:true, linecolor:'#8c8c8c', linewidth:1, mirror:true,
    ticks:'outside', ticklen:3, tickcolor:'#8c8c8c',
    tickfont:{size:7, color:'#8f8f8f', family:FONT}, zeroline:false, fixedrange:true
  };

  const add = (x, y, color, width, extra) => data.push(Object.assign({
    type:'scatter', mode:'lines', x, y, xaxis:xa, yaxis:ya,
    line:{color, width}, hoverinfo:'skip', connectgaps:false
  }, extra || {}));

  const c = carriers[k];
  const greenCol = top ? '#3fc23f' : '#a9c43c';
  const redCol = top ? '#ff6464' : '#d84848';

  add([c, c], [10, -140], 'rgba(255,90,90,0.5)', 1.4);
  add(colOf(p.black,0), colOf(p.black,1), '#2e2e2e', 1);
  add(colOf(p.green,0), colOf(p.green,1), greenCol, 1.4);
  if (p.zig.length) add(colOf(p.zig,0), colOf(p.zig,1), '#333333', 0.8);
  if (p.bars.length) add(colOf(p.bars,0), colOf(p.bars,1), '#111111', 6);
  if (p.blackTicks.length) { const t = vTicks(p.blackTicks); add(t.x, t.y, '#333333', 1); }
  const poly = bandPolygon(p.band, BAND_FLOOR);
  add(poly.x, poly.y, '#0000ff', 1, {fill:'toself', fillcolor:'#0000ff'});
  if (p.blueTicks.length) { const t = vTicks(p.blueTicks); add(t.x, t.y, '#2020ff', 1); }
  add(colOf(p.red,0), colOf(p.red,1), redCol, 1);
  if (p.redTicks.length) { const t = vTicks(p.redTicks); add(t.x, t.y, redCol, 1.2); }
  if (carrierBlack[k]) add([c, c], carrierBlack[k], '#222222', 1.1);
  if (spikeRed[k]) add([c, c], spikeRed[k], '#ff3030', 1.6);
  if (spikeBrown[k]) add([c, c], spikeBrown[k], '#b8642a', 1.6);
  if (spikeGreen[k]) add([c, c], spikeGreen[k], '#55dd55', 1.6);

  const lineShape = (lvl, color, w) => shapes.push({type:'line', xref:'paper', yref:ya,
    x0:px(C.plotL), x1:px(C.plotR + 8), y0:lvl, y1:lvl, line:{color, width:w}, layer:'below'});
  if (refGrayLevels[k] !== null) lineShape(refGrayLevels[k], '#555555', 1.3);
  if (refGreenLevels[k] !== null) lineShape(refGreenLevels[k], top ? '#36b836' : '#44b866', 1.3);
  lineShape(threshLevels[k], top ? '#ff7070' : '#e06040', 1.2);

  const txt = (x, y, text, size, anchor, yref) => annotations.push({xref:'paper', yref: yref || 'paper',
    x, y, text, showarrow:false, xanchor: anchor, yanchor:'middle',
    font:{size, color:'#8a8a8a', family:FONT}});
  txt(px(C.plotL), py(R.titleY), stamps[k], 8, 'left');
  txt(px(C.plotL + 123), py(R.titleY), channels[k % 5], 8, 'left');
  txt(px(C.plotL - 1), py(R.unitY), '(dBm)', 6.5, 'right');
  txt(px(C.plotR + C.hzGap), py(R.plotB + 10), '[Hz]', 7, 'left');
  txt(px(C.plotR + C.lblGap), threshLevels[k], threshLabels[k], C.lblSize, 'left', ya);

  if (OVERLAY[k]) shapes.push({type:'rect', xref:'paper', yref:'paper',
    x0:px(C.boxL), x1:px(C.boxR), y0:py(R.boxB), y1:py(R.grayT),
    fillcolor:'rgba(140,140,140,0.15)', line:{width:0}, layer:'above'});
});

layout.shapes = shapes;
layout.annotations = annotations;
Plotly.newPlot('chart', data, layout, {staticPlot:true, displayModeBar:false});
</script></body></html>
